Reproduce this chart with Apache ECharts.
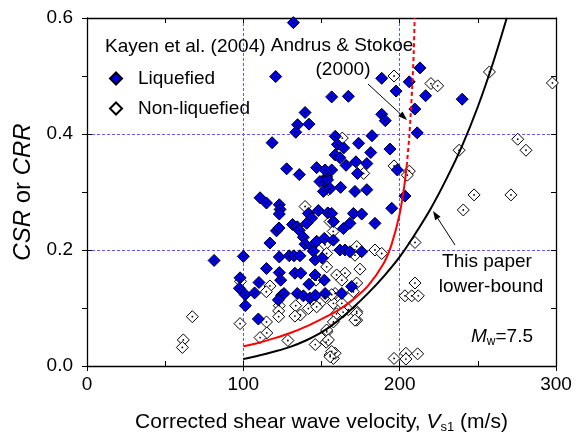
<!DOCTYPE html>
<html><head><meta charset="utf-8">
<script src="https://cdn.jsdelivr.net/npm/echarts@6/dist/echarts.min.js"></script>
<style>html,body{margin:0;padding:0;background:#fff}#c{width:576px;height:441px}</style>
</head><body><div id="c"></div>
<script>
// ---- data (Vs1 in m/s, CSR) ----
const liquefied = [
[132,0.592],[120.7,0.499],[156.5,0.464],[167.2,0.465],[139.5,0.437],[134.7,0.416],[142,0.417],[133.5,0.403],[118.4,0.385],
[188.5,0.496],[197.7,0.474],[206.1,0.490],[213,0.514],[216.6,0.466],[209.7,0.443],[240,0.460],[188.5,0.434],[190.8,0.423],
[211.2,0.402],[182.3,0.397],[173.7,0.384],[181.5,0.368],[193.8,0.374],[158.8,0.396],[160.2,0.382],[164.2,0.376],[158.7,0.364],
[161.8,0.359],[172,0.352],[179,0.349],[165.7,0.346],[173,0.332],[156.5,0.338],[153.3,0.326],[151.2,0.318],[162.2,0.308],
[179,0.304],[198.5,0.338],[127.7,0.340],[135.8,0.330],[146.9,0.342],[149,0.318],[152.3,0.338],[153.9,0.321],[151.2,0.301],
[155.5,0.306],[110.7,0.290],[114.8,0.281],[123,0.278],[123.5,0.270],[123,0.262],[141.6,0.263],[148,0.268],[154,0.264],
[143.7,0.255],[140.5,0.246],[121.2,0.233],[122.8,0.238],[131.5,0.244],[134.5,0.240],[135.8,0.234],[117,0.212],[138.4,0.222],
[139.5,0.210],[143.7,0.206],[146.9,0.215],[151.8,0.220],[144.8,0.198],[145.9,0.183],[150.5,0.186],[100,0.189],[81.3,0.182],
[123,0.188],[129.4,0.190],[132.4,0.190],[136.2,0.190],[114.8,0.168],[123,0.161],[123.9,0.148],[133,0.160],[136.8,0.160],
[145.9,0.157],[151.8,0.148],[110,0.144],[97.9,0.152],[97.5,0.134],[101.2,0.123],[107.2,0.126],[101.3,0.104],[109.6,0.081],
[124.5,0.122],[126,0.125],[122.4,0.114],[134.5,0.125],[138.4,0.121],[142.6,0.117],[146.1,0.122],[152.3,0.125],[142,0.141],
[171.4,0.301],[203.4,0.293],[194.9,0.272],[156.5,0.263],[157.6,0.249],[170.4,0.263],[175.7,0.262],[168.2,0.246],[164,0.237],
[184.2,0.246],[161.8,0.200],[165,0.200],[168.2,0.197],[175.7,0.197],[157.6,0.217],[163,0.125],[169.3,0.137]
];
const nonLiquefied = [
[196.4,0.500],[220,0.487],[224.3,0.483],[257.4,0.507],[297.7,0.488],[163.3,0.393],[275.5,0.391],[280.8,0.372],[238,0.372],
[196.4,0.345],[206.2,0.336],[204.9,0.329],[177,0.332],[247.6,0.295],[271.2,0.295],[240.7,0.269],[209.8,0.213],[209.8,0.143],
[203.4,0.121],[207.7,0.121],[211.9,0.121],[196.4,0.013],[204,0.022],[204,0.012],[211.5,0.021],[153,0.041],[155.5,0.019],
[157.6,0.013],[158.7,0.022],[172.5,0.094],[172.5,0.079],[153.4,0.059],[184.2,0.200],[188.5,0.194],[174.6,0.167],[157.5,0.232],
[67.4,0.085],[61.6,0.045],[61,0.032],[97.9,0.073],[98.2,0.146],[117,0.138],[114.7,0.128],[123,0.104],[122.6,0.095],
[122.6,0.085],[114.8,0.076],[115,0.057],[110.7,0.049],[128.5,0.044],[133.5,0.104],[136.5,0.088],[133,0.086],[139.5,0.275],
[146,0.037],[152.3,0.119],[149,0.108],[144.8,0.107],[146.5,0.148],[153.3,0.171],[152.3,0.209],[154.4,0.304],[155.5,0.249],
[153.3,0.194],[172.5,0.206],[171.4,0.191],[141.6,0.099],[146.9,0.102],[153.3,0.062],[154.4,0.045],[156.5,0.025],[155.5,0.016],
[165,0.160],[159.7,0.157],[163,0.148],[172.5,0.143],[170.4,0.128],[158.7,0.125],[157.6,0.108],[163,0.108],[167.2,0.097],
[172.5,0.091],[171.4,0.079],[159.6,0.090],[163.8,0.093],[157.6,0.076],[156.5,0.123]
];
// Andrus & Stokoe (2000) curve
const andrusSolid = [[100,0.034],[110,0.040],[120,0.048],[130,0.057],[140,0.068],[150,0.081],[160,0.095],[170,0.114],
[180,0.139],[190,0.178],[195,0.211],[200,0.262],[203,0.311],[204.5,0.345]];
const andrusDashed = [[204.5,0.345],[206,0.39],[207,0.431],[208,0.48],[209,0.54],[209.6,0.6]];
// This paper lower-bound curve
const lowerBound = [[100,0.012],[110,0.018],[120,0.025],[130,0.033],[140,0.044],[150,0.058],[160,0.077],[170,0.100],
[180,0.126],[190,0.155],[200,0.188],[210,0.228],[220,0.272],[230,0.323],[240,0.38],[250,0.447],[260,0.525],[268.5,0.6]];
const xTicks = [0,100,200,300];
const yTicks = [0,0.2,0.4,0.6];

const FONT = 'Liberation Sans, Arial, Helvetica, sans-serif';
const chart = echarts.init(document.getElementById('c'), null, {renderer:'canvas'});

function axisCommon(extra){
  return Object.assign({type:'value', splitLine:{show:false}, axisLabel:{show:false},
    axisLine:{show:false}}, extra);
}
const grid = {left:87, right:20, top:18, bottom:75};

function arrow(x1,y1,x2,y2){
  const ang = Math.atan2(y2-y1, x2-x1), L = 9, W = 3.2;
  const bx = x2 - L*Math.cos(ang), by = y2 - L*Math.sin(ang);
  const px = -Math.sin(ang)*W, py = Math.cos(ang)*W;
  return [
    {type:'line', shape:{x1,y1,x2:bx,y2:by}, style:{stroke:'#000', lineWidth:1}, z:100},
    {type:'polygon', shape:{points:[[x2,y2],[bx+px,by+py],[bx-px,by-py]]}, style:{fill:'#000'}, z:100}
  ];
}

const option = {
  animation:false,
  backgroundColor:'#fff',
  textStyle:{fontFamily:FONT},
  grid,
  legend:{
    data:['Liquefied','Non-liquefied'], orient:'vertical', left:104, top:64,
    itemWidth:12, itemHeight:12, itemGap:11,
    textStyle:{fontSize:19, color:'#000', fontFamily:FONT, padding:[0,0,0,11]}
  },
  xAxis:[
    {type:'value', min:0, max:300, interval:100, position:'bottom',
      axisLine:{show:true, onZero:false, lineStyle:{color:'#000', width:1.3}},
      axisTick:{show:true, inside:false, length:5, lineStyle:{color:'#000'}},
      axisLabel:{show:true, fontSize:19, color:'#000', margin:9, fontFamily:FONT,
        formatter:v=> xTicks.includes(v) ? String(v) : ''},
      splitLine:{show:true, lineStyle:{color:'#5a5aff', width:1, type:[3,2]}},
      name:'Corrected shear wave velocity, {i|V}{sub|s1} (m/s)', nameLocation:'middle', nameGap:44,
      nameTextStyle:{fontSize:21, color:'#000', fontFamily:FONT,
        rich:{i:{fontSize:21, fontStyle:'italic', fontFamily:FONT}, sub:{fontSize:13, verticalAlign:'bottom', padding:[11,0,0,0], fontFamily:FONT}}}
    },
    axisCommon({min:0, max:300, interval:100, position:'bottom',
      axisTick:{show:true, inside:true, length:5, lineStyle:{color:'#000'}},
      minorTick:{show:true, splitNumber:2, length:5, lineStyle:{color:'#000'}}}),
    axisCommon({min:0, max:300, interval:100, position:'top',
      axisLine:{show:true, onZero:false, lineStyle:{color:'#000', width:1.3}},
      axisTick:{show:true, inside:true, length:5, lineStyle:{color:'#000'}},
      minorTick:{show:true, splitNumber:2, length:5, lineStyle:{color:'#000'}}})
  ],
  yAxis:[
    {type:'value', min:0, max:0.6, interval:0.2, position:'left',
      axisLine:{show:true, onZero:false, lineStyle:{color:'#000', width:1.3}},
      axisTick:{show:true, inside:false, length:5, lineStyle:{color:'#000'}},
      minorTick:{show:true, splitNumber:2, length:5, lineStyle:{color:'#000'}},
      axisLabel:{show:true, fontSize:19, color:'#000', margin:14, fontFamily:FONT,
        formatter:v=>v.toFixed(1)},
      splitLine:{show:true, lineStyle:{color:'#5a5aff', width:1, type:[3,2]}},
      name:'{i|CSR} or {i|CRR}', nameLocation:'middle', nameGap:52, nameRotate:90,
      nameTextStyle:{fontSize:24, color:'#000', fontFamily:FONT,
        rich:{i:{fontSize:24, fontStyle:'italic', fontFamily:FONT}}}
    },
    axisCommon({min:0, max:0.6, interval:0.2, position:'left',
      axisTick:{show:true, inside:true, length:5, lineStyle:{color:'#000'}}}),
    axisCommon({min:0, max:0.6, interval:0.2, position:'right',
      axisLine:{show:true, onZero:false, lineStyle:{color:'#000', width:1.3}},
      axisTick:{show:true, inside:true, length:5, lineStyle:{color:'#000'}},
      minorTick:{show:true, splitNumber:2, length:5, lineStyle:{color:'#000'}}})
  ],
  series:[
    {name:'Non-liquefied', type:'scatter', data:nonLiquefied, symbol:'diamond', symbolSize:12,
      itemStyle:{color:'#fff', borderColor:'#000', borderWidth:1, opacity:1}, z:2},
    {name:'Liquefied', type:'scatter', data:liquefied, symbol:'diamond', symbolSize:12,
      itemStyle:{color:'#0000e8', borderColor:'#000', borderWidth:1, opacity:1}, z:3},
    {name:'dotsN', type:'scatter', data:nonLiquefied, symbol:'circle', symbolSize:1.8, silent:true,
      itemStyle:{color:'#000', opacity:1}, z:3},
    {name:'dotsL', type:'scatter', data:liquefied, symbol:'circle', symbolSize:1.8, silent:true,
      itemStyle:{color:'#000', opacity:1}, z:4},
    {name:'Andrus', type:'line', data:andrusSolid, smooth:0.3, showSymbol:false, symbol:'none',
      lineStyle:{color:'#ff0000', width:2}, z:5, clip:true},
    {name:'AndrusDash', type:'line', data:andrusDashed, smooth:0.3, showSymbol:false, symbol:'none',
      lineStyle:{color:'#ff0000', width:2, type:[4,3]}, z:5, clip:true},
    {name:'Lower', type:'line', data:lowerBound, smooth:0.3, showSymbol:false, symbol:'none',
      lineStyle:{color:'#000', width:2}, z:5, clip:true}
  ],
  graphic:[
    {type:'text', x:105, y:47, z:100, style:{text:'Kayen et al. (2004)', fontSize:19, fontFamily:FONT, fill:'#000', verticalAlign:'middle'}},
    {type:'text', x:342, y:46, z:100, style:{text:'Andrus & Stokoe', fontSize:19, fontFamily:FONT, fill:'#000', align:'center', verticalAlign:'middle'}},
    {type:'text', x:343, y:70, z:100, style:{text:'(2000)', fontSize:19, fontFamily:FONT, fill:'#000', align:'center', verticalAlign:'middle'}},
    {type:'text', x:487, y:262, z:100, style:{text:'This paper', fontSize:19, fontFamily:FONT, fill:'#000', align:'center', verticalAlign:'middle'}},
    {type:'text', x:491, y:287, z:100, style:{text:'lower-bound', fontSize:19, fontFamily:FONT, fill:'#000', align:'center', verticalAlign:'middle'}},
    {type:'text', x:471, y:337, z:100, style:{text:'{i|M}{s|w}=7.5', fontSize:19, fontFamily:FONT, fill:'#000', verticalAlign:'middle',
      rich:{i:{fontSize:19, fontStyle:'italic', fontFamily:FONT}, s:{fontSize:12, fontFamily:FONT, padding:[10,0,0,0]}}}},
    ...arrow(368,84,407,120),
    ...arrow(455,245,433,211)
  ]
};
chart.setOption(option);
</script></body></html>
